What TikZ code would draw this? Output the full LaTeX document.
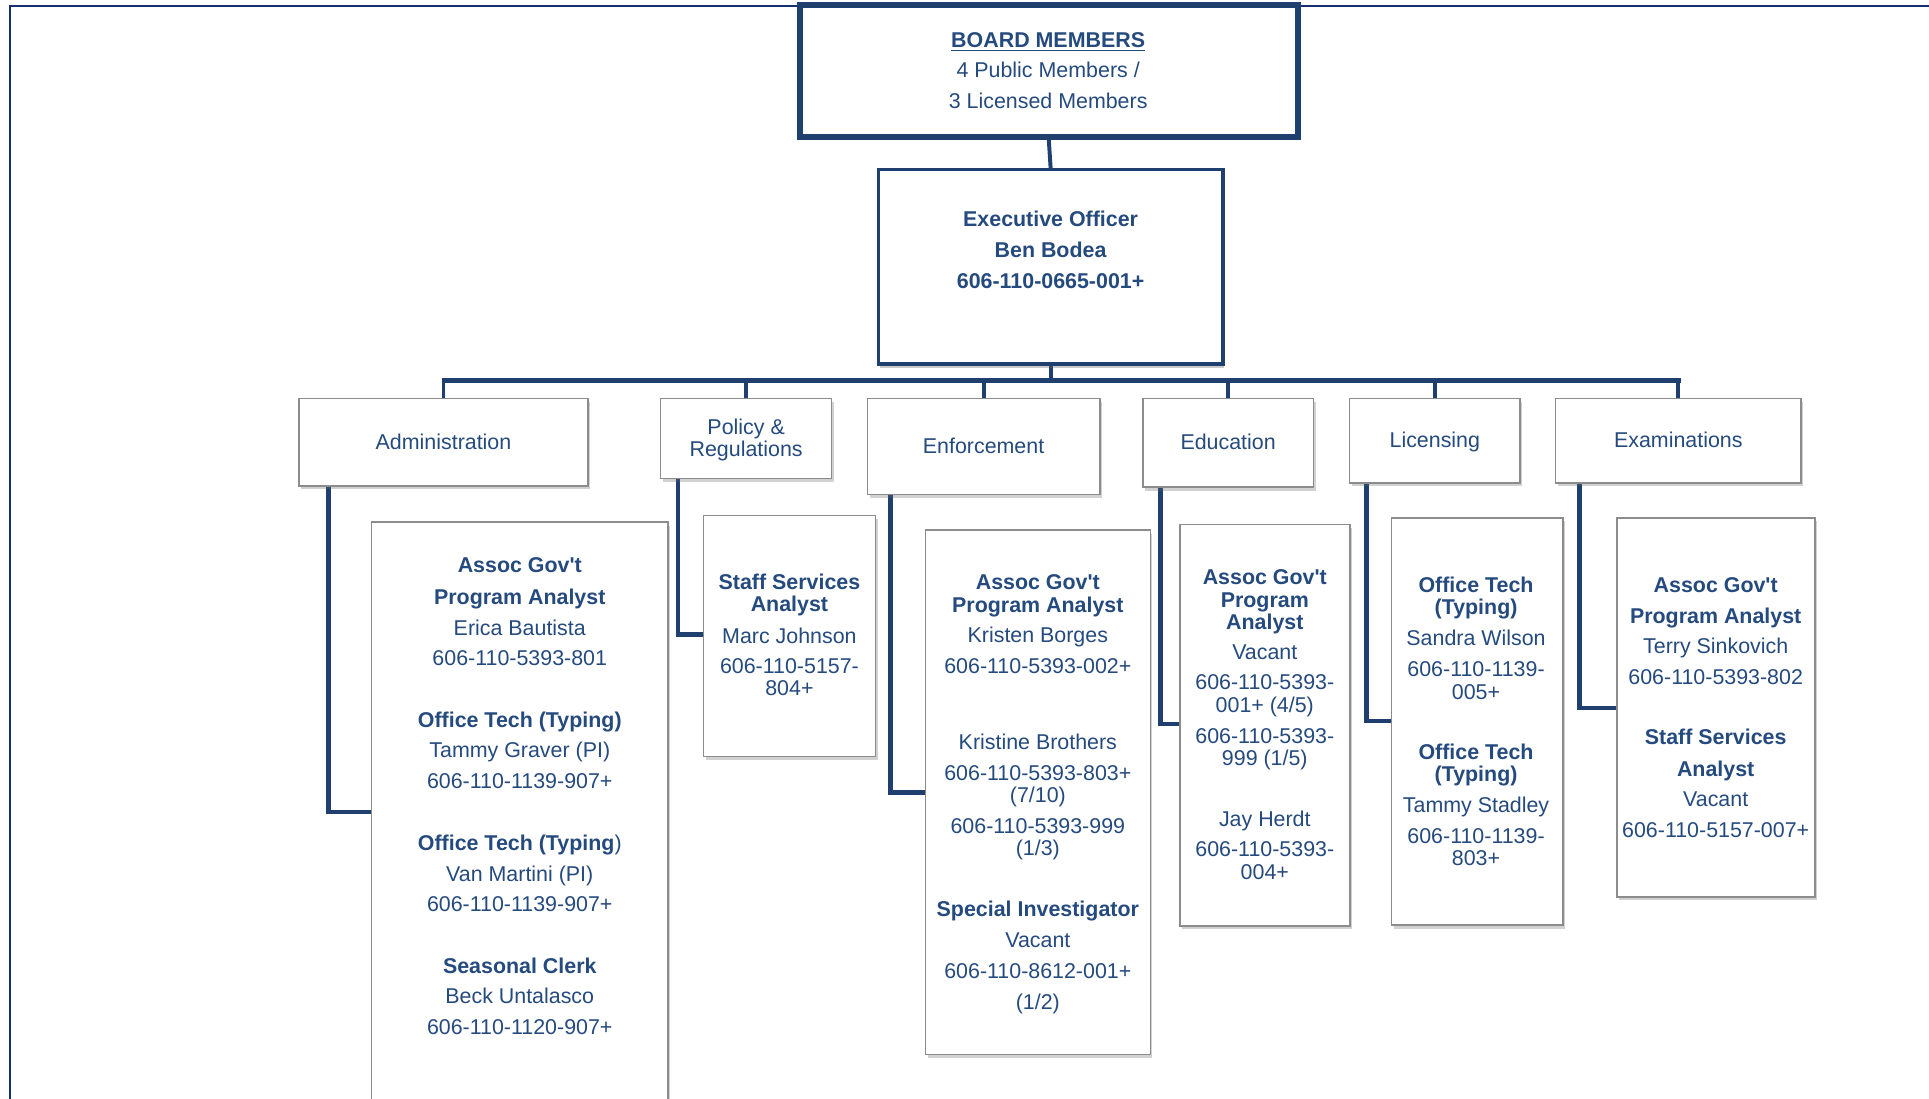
\documentclass[tikz,border=0pt]{standalone}
\usepackage{fontspec}
\setmainfont{Liberation Sans}
\usetikzlibrary{shadows,backgrounds}
\definecolor{navy}{HTML}{1F3F6E}
\definecolor{framec}{HTML}{14306E}
\definecolor{txtc}{HTML}{254A7E}
\definecolor{boxgray}{HTML}{8C8C8C}
\newcommand\mkbox[6]{%
 \pgfmathsetmacro\bw{(#5-#3)*0.5}%
 \pgfmathsetmacro\bh{(#6-#4)*0.5}%
 \node[#2, minimum width=\bw pt, minimum height=\bh pt] (#1) at ({(#3+#5)/2},{(#4+#6)/2}) {};}
\newcommand\tl[4]{\node[txt] (#1) at (#2,#3) {#4};}
\newcommand\govt{Gov\textquotesingle t}
\begin{document}
\begin{tikzpicture}[x=0.5pt, y=-0.5pt,
  font=\fontsize{8.7}{10}\selectfont,
  txt/.style={text=txtc, inner sep=0pt, anchor=mid, yshift=-0.5pt},
  boardbox/.style={draw=navy, line width=2.4pt, fill=white, inner sep=0pt,
     drop shadow={shadow xshift=0.6pt, shadow yshift=-1.6pt, opacity=0.35, fill=black!60}},
  execbox/.style={draw=navy, line width=1.4pt, fill=white, inner sep=0pt,
     drop shadow={shadow xshift=0.6pt, shadow yshift=-1.4pt, opacity=0.35, fill=black!60}},
  deptbox/.style={draw=boxgray, line width=0.6pt, fill=white, inner sep=0pt,
     drop shadow={shadow xshift=0.9pt, shadow yshift=-1.4pt, opacity=0.3, fill=black!60}},
  bus/.style={draw=navy, line width=2pt},
  dropline/.style={draw=navy, line width=1.6pt},
  branch/.style={draw=navy, line width=1.9pt}]
\useasboundingbox (0,0) rectangle (1568,893);
% frame
\draw[framec, line width=0.8pt] (8.5,900) -- (8.5,5) -- (1570,5);

% top boxes
\mkbox{board}{boardbox}{650}{4}{1055}{111}
\mkbox{exec}{execbox}{714}{138}{994}{296}
\tl{b1}{852}{32}{\textbf{\underline{BOARD MEMBERS}}}
\tl{b2}{852}{57}{4 Public Members /}
\tl{b3}{852}{82}{3 Licensed Members}
\tl{e1}{854}{178}{\textbf{Executive Officer}}
\tl{e2}{854}{203}{\textbf{Ben Bodea}}
\tl{e3}{854}{228}{\textbf{606-110-0665-001+}}

% department boxes
\mkbox{adm}{deptbox}{243}{324}{478}{395}
\mkbox{pol}{deptbox}{537}{324}{676}{389}
\mkbox{enf}{deptbox}{705}{324}{894}{402}
\mkbox{edu}{deptbox}{929}{324}{1067.6}{396}
\mkbox{lic}{deptbox}{1097}{324}{1235.6}{392.6}
\mkbox{exa}{deptbox}{1264.4}{324}{1464}{392.6}
\tl{d1}{360.5}{359}{Administration}
\tl{d2a}{606.5}{346.6}{Policy \&}
\tl{d2b}{606.5}{365}{Regulations}
\tl{d3}{799.5}{362}{Enforcement}
\tl{d4}{998.3}{359}{Education}
\tl{d5}{1166.3}{357.6}{Licensing}
\tl{d6}{1364.2}{357.6}{Examinations}

% child boxes
\mkbox{admc}{deptbox}{302}{424.5}{543}{905}
\mkbox{polc}{deptbox}{572}{419}{711.5}{615}
\mkbox{enfc}{deptbox}{752.5}{431}{935}{857}
\mkbox{educ}{deptbox}{959}{426.5}{1097.4}{752.6}
\mkbox{licc}{deptbox}{1131}{421}{1270.3}{752}
\mkbox{exac}{deptbox}{1314.5}{421}{1475.5}{729}

% Administration child text
\tl{a1}{422.5}{459.3}{\textbf{Assoc \govt}}
\tl{a2}{422.5}{484.7}{\textbf{Program Analyst}}
\tl{a3}{422.5}{510}{Erica Bautista}
\tl{a4}{422.5}{534.3}{606-110-5393-801}
\tl{a5}{422.5}{585}{\textbf{Office Tech (Typing)}}
\tl{a6}{422.5}{609.7}{Tammy Graver (PI)}
\tl{a7}{422.5}{634.7}{606-110-1139-907+}
\tl{a8}{422.5}{684.7}{\textbf{Office Tech (Typing}{)}}
\tl{a9}{422.5}{710}{Van Martini (PI)}
\tl{a10}{422.5}{734.8}{606-110-1139-907+}
\tl{a11}{422.5}{784.8}{\textbf{Seasonal Clerk}}
\tl{a12}{422.5}{809.7}{Beck Untalasco}
\tl{a13}{422.5}{834.4}{606-110-1120-907+}

% Policy child text
\tl{p1}{641.7}{473.1}{\textbf{Staff Services}}
\tl{p2}{641.7}{491}{\textbf{Analyst}}
\tl{p3}{641.7}{516.4}{Marc Johnson}
\tl{p4}{641.7}{541}{606-110-5157-}
\tl{p5}{641.7}{559}{804+}

% Enforcement child text
\tl{n1}{843.6}{472.7}{\textbf{Assoc \govt}}
\tl{n2}{843.6}{491.6}{\textbf{Program Analyst}}
\tl{n3}{843.6}{516.2}{Kristen Borges}
\tl{n4}{843.6}{541.5}{606-110-5393-002+}
\tl{n5}{843.6}{602.9}{Kristine Brothers}
\tl{n6}{843.6}{628.3}{606-110-5393-803+}
\tl{n7}{843.6}{646.1}{(7/10)}
\tl{n8}{843.6}{671}{606-110-5393-999}
\tl{n9}{843.6}{689.3}{(1/3)}
\tl{n10}{843.6}{738.7}{\textbf{Special Investigator}}
\tl{n11}{843.6}{763.7}{Vacant}
\tl{n12}{843.6}{789}{606-110-8612-001+}
\tl{n13}{843.6}{814}{(1/2)}

% Education child text
\tl{u1}{1028.1}{468.9}{\textbf{Assoc \govt}}
\tl{u2}{1028.1}{487.9}{\textbf{Program}}
\tl{u3}{1028.1}{505.4}{\textbf{Analyst}}
\tl{u4}{1028.1}{529.6}{Vacant}
\tl{u5}{1028.1}{554.5}{606-110-5393-}
\tl{u6}{1028.1}{572.7}{001+ (4/5)}
\tl{u7}{1028.1}{597.7}{606-110-5393-}
\tl{u8}{1028.1}{615.9}{999 (1/5)}
\tl{u9}{1028.1}{665.4}{Jay Herdt}
\tl{u10}{1028.1}{690.3}{606-110-5393-}
\tl{u11}{1028.1}{709}{004+}

% Licensing child text
\tl{l1}{1199.8}{475.3}{\textbf{Office Tech}}
\tl{l2}{1199.8}{493.5}{\textbf{(Typing)}}
\tl{l3}{1199.8}{518.4}{Sandra Wilson}
\tl{l4}{1199.8}{543.4}{606-110-1139-}
\tl{l5}{1199.8}{562}{005+}
\tl{l6}{1199.8}{611.1}{\textbf{Office Tech}}
\tl{l7}{1199.8}{629.3}{\textbf{(Typing)}}
\tl{l8}{1199.8}{654.3}{Tammy Stadley}
\tl{l9}{1199.8}{679.2}{606-110-1139-}
\tl{l10}{1199.8}{697.1}{803+}

% Examinations child text
\tl{x1}{1394.6}{475.3}{\textbf{Assoc \govt}}
\tl{x2}{1394.6}{500.6}{\textbf{Program Analyst}}
\tl{x3}{1394.6}{524.8}{Terry Sinkovich}
\tl{x4}{1394.6}{550}{606-110-5393-802}
\tl{x5}{1394.6}{599.2}{\textbf{Staff Services}}
\tl{x6}{1394.6}{624.5}{\textbf{Analyst}}
\tl{x7}{1394.6}{649.5}{Vacant}
\tl{x8}{1394.6}{674.8}{606-110-5157-007+}

% connectors
\coordinate (busL) at (359,309.5);
\coordinate (busR) at (1366,309.5);
\coordinate (admb) at (267,660);
\coordinate (polb) at (551,516);
\coordinate (enfb) at (724,644);
\coordinate (edub) at (943.3,588.6);
\coordinate (licb) at (1110.8,586);
\coordinate (exab) at (1284,575.5);
\begin{scope}[on background layer]
\draw[dropline] (board.south) -- (exec.north);
\draw[dropline] (exec.south) -- (exec.south |- busL);
\draw[bus] (busL) -- (busR);
\foreach \d in {adm,pol,enf,edu,lic,exa}
  \draw[dropline] (\d.north) -- (\d.north |- busL);
\draw[branch] (adm.south -| admb) |- (admc.west |- admb);
\draw[branch] (pol.south -| polb) |- (polc.west |- polb);
\draw[branch] (enf.south -| enfb) |- (enfc.west |- enfb);
\draw[branch] (edu.south -| edub) |- (educ.west |- edub);
\draw[branch] (lic.south -| licb) |- (licc.west |- licb);
\draw[branch] (exa.south -| exab) |- (exac.west |- exab);
\end{scope}
\end{tikzpicture}
\end{document}
